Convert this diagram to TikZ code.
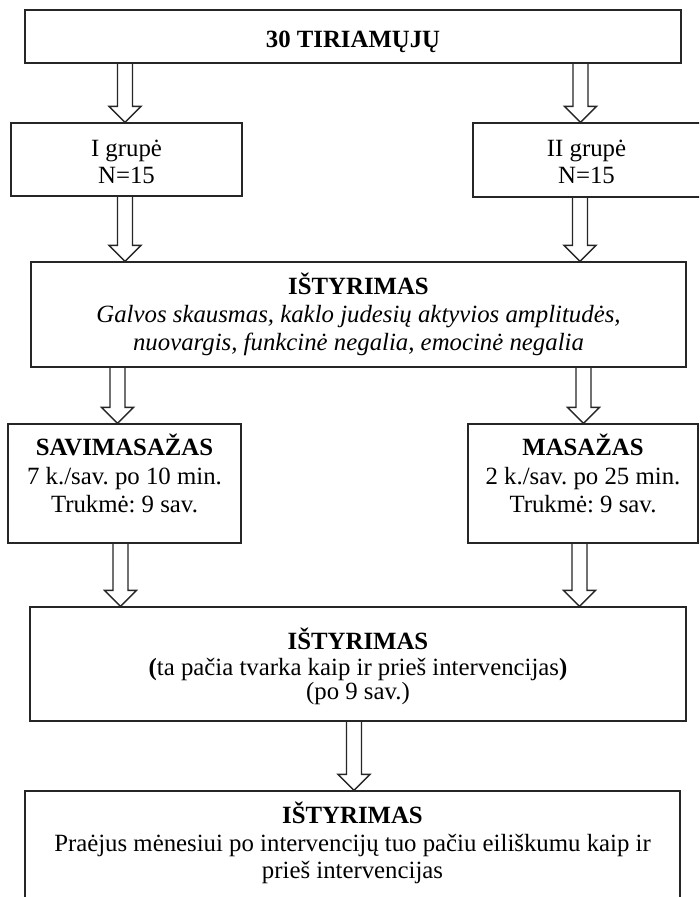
\documentclass[tikz,border=0pt]{standalone}
\usepackage{fontspec}
\setmainfont{Liberation Serif}
\usetikzlibrary{calc}
\frenchspacing
\tikzset{
  boxnode/.style={draw=black!85, line width=1.3pt, rectangle, inner sep=0pt},
  txt/.style={anchor=base, inner sep=0pt, text=black, font=\fontsize{24.8}{28}\selectfont\frenchspacing},
  btxt/.style={txt, font=\fontsize{24.8}{28}\selectfont\frenchspacing\bfseries},
  itxt/.style={txt, font=\fontsize{24.8}{28}\selectfont\frenchspacing\itshape},
  hollow/.style={draw=black!85, line width=1.3pt, line join=miter},
}
\newcommand\hollowarrow[2]{%
  \draw[hollow] let \p1=(#1), \p2=(#2) in
    (\x1-7.5pt,\y1) -- (\x1-7.5pt,\y2+16pt) -- (\x1-16pt,\y2+16pt) -- (\x1,\y2)
    -- (\x1+16pt,\y2+16pt) -- (\x1+7.5pt,\y2+16pt) -- (\x1+7.5pt,\y1);
}
\begin{document}
\begin{tikzpicture}[x=1pt,y=-1pt]
\useasboundingbox (0,0) rectangle (699,897);
\clip (0,0) rectangle (699,897);
\fill[white] (0,0) rectangle (699,897);

% boxes
\node[boxnode, minimum width=656pt, minimum height=53pt] (top) at (353,36.5) {};
\node[boxnode, minimum width=231pt, minimum height=73pt] (g1) at (126.5,159.5) {};
\node[boxnode, minimum width=227.5pt, minimum height=74pt] (g2) at (586.75,160) {};
\node[boxnode, minimum width=655pt, minimum height=105pt] (ist1) at (358.5,314.5) {};
\node[boxnode, minimum width=233pt, minimum height=119pt] (sav) at (124.5,483.5) {};
\node[boxnode, minimum width=230pt, minimum height=119pt] (mas) at (583,483.5) {};
\node[boxnode, minimum width=656pt, minimum height=114pt] (ist2) at (358,664) {};
\node[boxnode, minimum width=655pt, minimum height=114pt] (ist3) at (352.5,848) {};

% texts
\node[btxt] (t0) at (353,47) {30 TIRIAMŲJŲ};
\node[txt] (t1a) at (126.5,156) {I grupė};
\node[txt] (t1b) at (126.5,183) {N=15};
\node[txt] (t2a) at (586.5,156) {II grupė};
\node[txt] (t2b) at (586.5,183) {N=15};
\node[btxt] (t3a) at (358.5,294) {IŠTYRIMAS};
\node[itxt] (t3b) at (358.5,322) {Galvos skausmas, kaklo judesių aktyvios amplitudės,};
\node[itxt] (t3c) at (358.5,350) {nuovargis, funkcinė negalia, emocinė negalia};
\node[btxt] (t4a) at (124.5,455) {SAVIMASAŽAS};
\node[txt] (t4b) at (124.5,484) {7 k./sav. po 10 min.};
\node[txt] (t4c) at (124.5,512) {Trukmė: 9 sav.};
\node[btxt] (t5a) at (583,455) {MASAŽAS};
\node[txt] (t5b) at (583,484) {2 k./sav. po 25 min.};
\node[txt] (t5c) at (583,512) {Trukmė: 9 sav.};
\node[btxt] (t6a) at (358,649) {IŠTYRIMAS};
\node[txt] (t6b) at (358,675) {\textbf{(}ta pačia tvarka kaip ir prieš intervencijas\textbf{)}};
\node[txt] (t6c) at (358,699) {(po 9 sav.)};
\node[btxt] (t7a) at (352.5,823) {IŠTYRIMAS};
\node[txt] (t7b) at (352.5,851) {Praėjus mėnesiui po intervencijų tuo pačiu eiliškumu kaip ir};
\node[txt] (t7c) at (352.5,878) {prieš intervencijas};

% arrow columns
\coordinate (c1) at (125,0);
\coordinate (c2) at (580.5,0);
\coordinate (c3) at (125,0);
\coordinate (c4) at (580,0);
\coordinate (c5) at (117.5,0);
\coordinate (c6) at (583.5,0);
\coordinate (c7) at (120.5,0);
\coordinate (c8) at (579.5,0);
\coordinate (c9) at (354,0);

\hollowarrow{top.south -| c1}{g1.north -| c1}
\hollowarrow{top.south -| c2}{g2.north -| c2}
\hollowarrow{g1.south -| c3}{ist1.north -| c3}
\hollowarrow{g2.south -| c4}{ist1.north -| c4}
\hollowarrow{ist1.south -| c5}{sav.north -| c5}
\hollowarrow{ist1.south -| c6}{mas.north -| c6}
\hollowarrow{sav.south -| c7}{ist2.north -| c7}
\hollowarrow{mas.south -| c8}{ist2.north -| c8}
\hollowarrow{ist2.south -| c9}{ist3.north -| c9}
\end{tikzpicture}
\end{document}
